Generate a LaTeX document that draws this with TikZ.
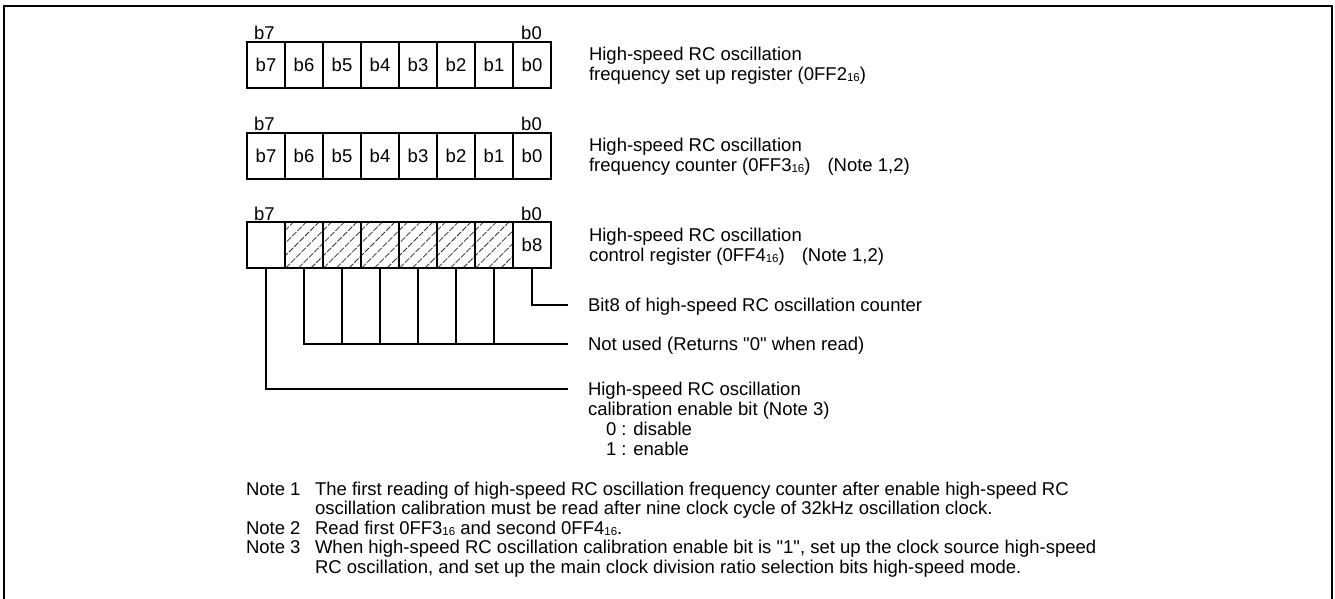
\documentclass[tikz,border=0pt]{standalone}
\usepackage{fontspec}
\setmainfont{Liberation Sans}[Ligatures=TeXOff]
\newcommand\hexsub[1]{\raisebox{-1.2pt}{\fontsize{11.5}{12}\selectfont #1}}
\newcommand\sq{{\char34}}
\begin{document}
\begin{tikzpicture}[x=1pt,y=-1pt,
  font=\fontsize{18.5}{20.5}\selectfont,
  cell/.style={draw, line width=1.2pt, minimum width=38pt, minimum height=46pt, inner sep=0pt, outer sep=0pt},
  txt/.style={anchor=base west, inner sep=0pt, outer sep=0pt},
  conn/.style={line width=1.1pt},
  hatch/.style={line width=0.8pt, black!80, dash pattern=on 6pt off 1.5pt}]
\useasboundingbox (0,0) rectangle (1335,599);
\begin{scope}
  \clip (0,0) rectangle (1335,599);
  \draw[line width=2pt] (3.5,6.5) rectangle (1331.5,640);
\end{scope}
% registers 1 and 2
\foreach \r/\t in {1/42,2/133}{
  \foreach \i in {0,...,7}{
    \pgfmathtruncatemacro\b{7-\i}
    \node[cell] (r\r c\b) at (266+38*\i,\t+23) {b\b};
  }
  \node[txt] (r\r l7) at (254,\t-2) {b7};
  \node[anchor=base east, inner sep=0pt] (r\r l0) at (542,\t-2) {b0};
}
% register 3
\begin{scope}
  \clip (285,222) rectangle (513,268);
  \foreach \k in {0,12.667,...,300} \draw[hatch] (235+\k,268) -- ++(50,-50);
\end{scope}
\foreach \i in {0,...,6}{
  \pgfmathtruncatemacro\b{7-\i}
  \node[cell] (r3c\b) at (266+38*\i,245) {};
}
\node[cell] (r3c0) at (532,245) {b8};
\node[txt] (r3l7) at (254,220) {b7};
\node[anchor=base east, inner sep=0pt] (r3l0) at (542,220) {b0};
% connectors
\coordinate (e8) at (568,305);
\coordinate (eN) at (568,344);
\coordinate (e7) at (568,389);
\draw[conn] (r3c0.south) |- (e8);
\draw[conn] (r3c6.south) |- (eN);
\foreach \b in {1,...,5} \draw[conn] (r3c\b.south) -- (r3c\b.south |- eN);
\draw[conn] (r3c7.south) |- (e7);
% register titles
\node[txt] (t1a) at (589,60.5) {High-speed RC oscillation};
\node[txt] (t1b) at (589,80.5) {frequency set up register (0FF2\hexsub{16})};
\node[txt] (t2a) at (589,151) {High-speed RC oscillation};
\node[txt] (t2b) at (589,171) {frequency counter (0FF3\hexsub{16})\hspace{17pt}(Note 1,2)};
\node[txt] (t3a) at (589,241) {High-speed RC oscillation};
\node[txt] (t3b) at (589,261) {control register (0FF4\hexsub{16})\hspace{17pt}(Note 1,2)};
% bit descriptions
\node[txt] (d8) at (588,311.5) {Bit8 of high-speed RC oscillation counter};
\node[txt] (dN) at (588,350.5) {Not used (Returns \sq0\sq\ when read)};
\node[txt] (d7a) at (588,395.5) {High-speed RC oscillation};
\node[txt] (d7b) at (588,415.5) {calibration enable bit (Note 3)};
\node[txt] (d7c) at (606,435.5) {0 : disable};
\node[txt] (d7d) at (606,455.5) {1 : enable};
% notes
\node[txt] (n1) at (246,495) {Note 1};
\node[txt] (n1a) at (315,495) {The first reading of high-speed RC oscillation frequency counter after enable high-speed RC};
\node[txt] (n1b) at (315,514.5) {oscillation calibration must be read after nine clock cycle of 32kHz oscillation clock.};
\node[txt] (n2) at (246,534) {Note 2};
\node[txt] (n2a) at (315,534) {Read first 0FF3\hexsub{16} and second 0FF4\hexsub{16}.};
\node[txt] (n3) at (246,553.5) {Note 3};
\node[txt] (n3a) at (315,553.5) {When high-speed RC oscillation calibration enable bit is \sq1\sq, set up the clock source high-speed};
\node[txt] (n3b) at (315,573) {RC oscillation, and set up the main clock division ratio selection bits high-speed mode.};
\end{tikzpicture}
\end{document}
